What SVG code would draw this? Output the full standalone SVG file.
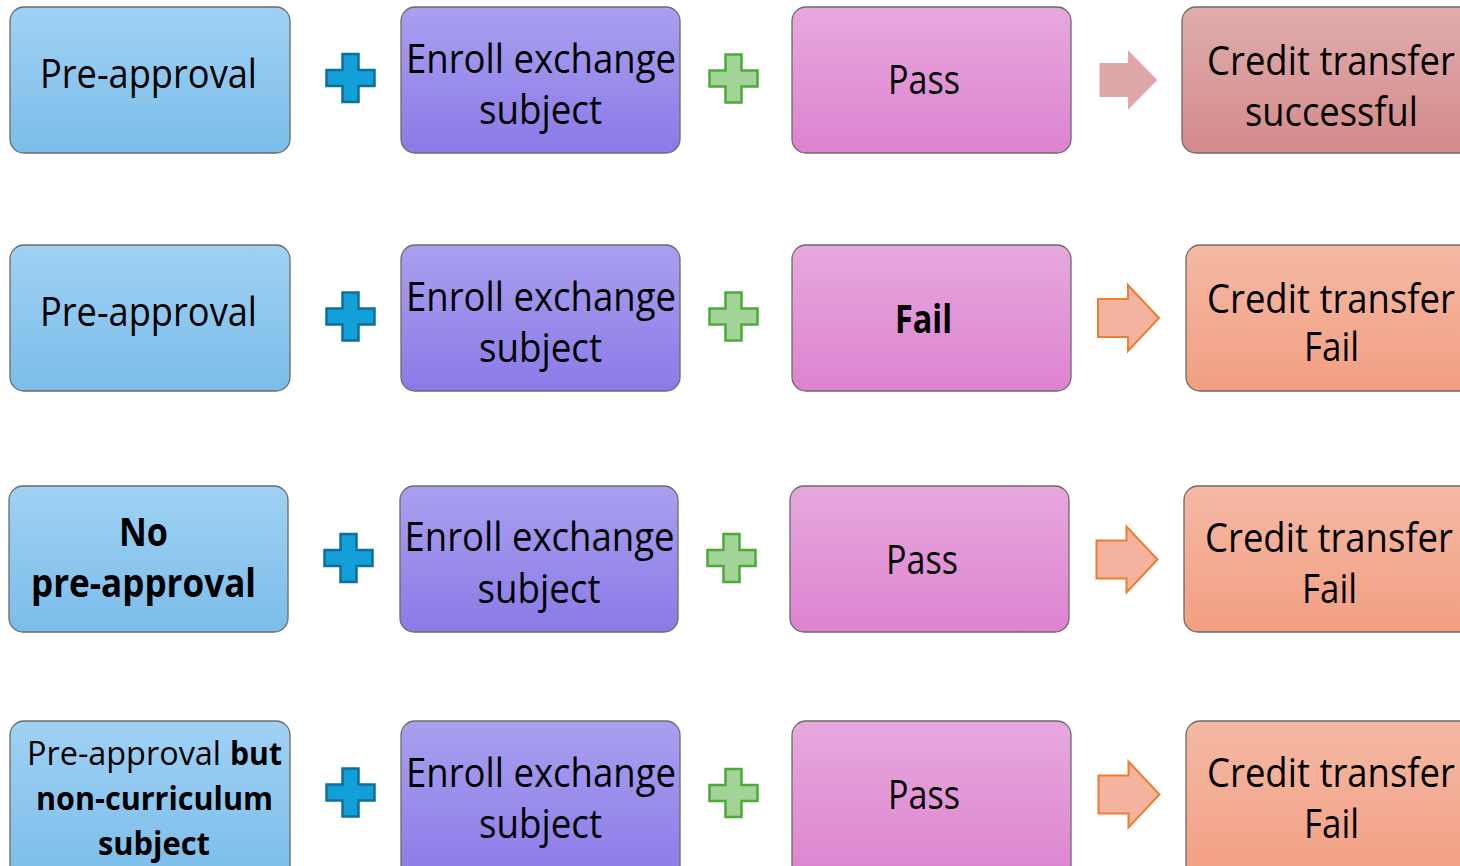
<svg xmlns="http://www.w3.org/2000/svg" width="1460" height="866" viewBox="0 0 1460 866">
<defs>
<linearGradient id="gBlue" x1="0" y1="0" x2="0" y2="1"><stop offset="0" stop-color="#a0d1f4"/><stop offset="1" stop-color="#7bbde9"/></linearGradient>
<linearGradient id="gPurple" x1="0" y1="0" x2="0" y2="1"><stop offset="0" stop-color="#a9a0ef"/><stop offset="1" stop-color="#8a7ae7"/></linearGradient>
<linearGradient id="gPink" x1="0" y1="0" x2="0" y2="1"><stop offset="0" stop-color="#e7a8dd"/><stop offset="1" stop-color="#dd83d0"/></linearGradient>
<linearGradient id="gRose" x1="0" y1="0" x2="0" y2="1"><stop offset="0" stop-color="#e0adad"/><stop offset="1" stop-color="#d48a8a"/></linearGradient>
<linearGradient id="gSalmon" x1="0" y1="0" x2="0" y2="1"><stop offset="0" stop-color="#f4b9a4"/><stop offset="1" stop-color="#f29f82"/></linearGradient>
<path id="plus" d="M-8,-24 H8 V-8 H24 V8 H8 V24 H-8 V8 H-24 V-8 H-8 Z"/>
<path id="arrow" d="M-30,-19 H0 V-33 L31,0 L0,33 V19 H-30 Z"/>
</defs>
<style>
.box{stroke:#6b6b6b;stroke-width:1.3}
.b1{fill:url(#gBlue)} .b2{fill:url(#gPurple)} .b3{fill:url(#gPink)} .b4{fill:url(#gRose)} .b5{fill:url(#gSalmon)}
.bp{fill:#13a0d9;stroke:#0e6f9c;stroke-width:2.5}
.gp{fill:#a3d497;stroke:#4ca93a;stroke-width:2.5}
.ar1{fill:#dfa7a7}
.ar2{fill:#f4b39e;stroke:#ed7d31;stroke-width:2}
text{font-family:"Open Sans","Liberation Sans",sans-serif;font-size:40px;fill:#000;text-anchor:middle}
.bd{font-weight:bold}
.sm{font-size:33px}
</style>

<g id="connectors">
<use href="#plus" class="bp" x="350.5" y="78"/>
<use href="#plus" class="gp" x="733.5" y="78.5"/>
<use href="#arrow" class="ar1" x="1128" y="80" transform="translate(1128 80) scale(0.95 0.9) translate(-1128 -80)"/>
<use href="#plus" class="bp" x="350.5" y="316.5"/>
<use href="#plus" class="gp" x="733.5" y="316.5"/>
<use href="#arrow" class="ar2" x="1128" y="318"/>
<use href="#plus" class="bp" x="348.5" y="558"/>
<use href="#plus" class="gp" x="731.5" y="558"/>
<use href="#arrow" class="ar2" x="1126.5" y="559.5"/>
<use href="#plus" class="bp" x="350.5" y="792.5"/>
<use href="#plus" class="gp" x="733.5" y="793"/>
<use href="#arrow" class="ar2" x="1128.5" y="794.5"/>
</g>

<g id="r1c1"><rect class="box b1" x="10" y="7" width="280" height="146" rx="14"/><text x="148.5" y="88" textLength="217" lengthAdjust="spacingAndGlyphs">Pre-approval</text></g>
<g id="r1c2"><rect class="box b2" x="401" y="7" width="279" height="146" rx="14"/><text x="541" y="73" textLength="270" lengthAdjust="spacingAndGlyphs">Enroll exchange</text><text x="540.5" y="124" textLength="123" lengthAdjust="spacingAndGlyphs">subject</text></g>
<g id="r1c3"><rect class="box b3" x="792" y="7" width="279" height="146" rx="14"/><text x="924" y="94" textLength="72" lengthAdjust="spacingAndGlyphs">Pass</text></g>
<g id="r1c4"><rect class="box b4" x="1182" y="7" width="300" height="146" rx="14"/><text x="1331" y="75" textLength="248" lengthAdjust="spacingAndGlyphs">Credit transfer</text><text x="1331.5" y="126" textLength="173" lengthAdjust="spacingAndGlyphs">successful</text></g>

<g id="r2c1"><rect class="box b1" x="10" y="245" width="280" height="146" rx="14"/><text x="148.5" y="326" textLength="217" lengthAdjust="spacingAndGlyphs">Pre-approval</text></g>
<g id="r2c2"><rect class="box b2" x="401" y="245" width="279" height="146" rx="14"/><text x="541" y="311" textLength="270" lengthAdjust="spacingAndGlyphs">Enroll exchange</text><text x="540.5" y="362" textLength="123" lengthAdjust="spacingAndGlyphs">subject</text></g>
<g id="r2c3"><rect class="box b3" x="792" y="245" width="279" height="146" rx="14"/><text class="bd" x="923.5" y="333" textLength="57" lengthAdjust="spacingAndGlyphs">Fail</text></g>
<g id="r2c4"><rect class="box b5" x="1186" y="245" width="296" height="146" rx="14"/><text x="1331" y="313" textLength="248" lengthAdjust="spacingAndGlyphs">Credit transfer</text><text x="1331.5" y="361" textLength="55" lengthAdjust="spacingAndGlyphs">Fail</text></g>

<g id="r3c1"><rect class="box b1" x="9" y="486" width="279" height="146" rx="14"/><text class="bd" x="143.5" y="546" textLength="49" lengthAdjust="spacingAndGlyphs">No</text><text class="bd" x="143.5" y="597" textLength="225" lengthAdjust="spacingAndGlyphs">pre-approval</text></g>
<g id="r3c2"><rect class="box b2" x="400" y="486" width="278" height="146" rx="14"/><text x="539.5" y="551" textLength="270" lengthAdjust="spacingAndGlyphs">Enroll exchange</text><text x="539" y="603" textLength="123" lengthAdjust="spacingAndGlyphs">subject</text></g>
<g id="r3c3"><rect class="box b3" x="790" y="486" width="279" height="146" rx="14"/><text x="922" y="574" textLength="72" lengthAdjust="spacingAndGlyphs">Pass</text></g>
<g id="r3c4"><rect class="box b5" x="1184" y="486" width="298" height="146" rx="14"/><text x="1329" y="552" textLength="248" lengthAdjust="spacingAndGlyphs">Credit transfer</text><text x="1329.5" y="603" textLength="55" lengthAdjust="spacingAndGlyphs">Fail</text></g>

<g id="r4c1"><rect class="box b1" x="10" y="721" width="280" height="160" rx="14"/><text class="sm" x="27" y="765" style="text-anchor:start" textLength="194" lengthAdjust="spacingAndGlyphs">Pre-approval</text><text class="sm bd" x="230" y="765" style="text-anchor:start" textLength="52" lengthAdjust="spacingAndGlyphs">but</text><text class="sm bd" x="154.5" y="810" textLength="237" lengthAdjust="spacingAndGlyphs">non-curriculum</text><text class="sm bd" x="154" y="855" textLength="112" lengthAdjust="spacingAndGlyphs">subject</text></g>
<g id="r4c2"><rect class="box b2" x="401" y="721" width="279" height="160" rx="14"/><text x="541" y="787" textLength="270" lengthAdjust="spacingAndGlyphs">Enroll exchange</text><text x="540.5" y="838" textLength="123" lengthAdjust="spacingAndGlyphs">subject</text></g>
<g id="r4c3"><rect class="box b3" x="792" y="721" width="279" height="160" rx="14"/><text x="924" y="809" textLength="72" lengthAdjust="spacingAndGlyphs">Pass</text></g>
<g id="r4c4"><rect class="box b5" x="1186" y="721" width="296" height="160" rx="14"/><text x="1331" y="787" textLength="248" lengthAdjust="spacingAndGlyphs">Credit transfer</text><text x="1331.5" y="838" textLength="55" lengthAdjust="spacingAndGlyphs">Fail</text></g>
</svg>
